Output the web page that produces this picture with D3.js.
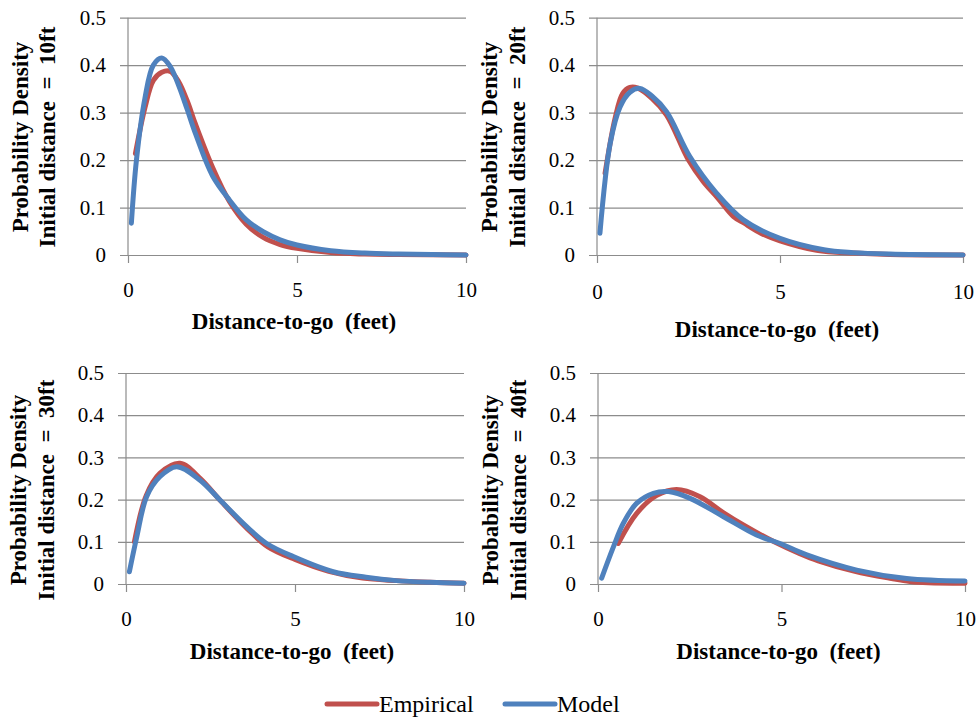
<!DOCTYPE html>
<html>
<head>
<meta charset="utf-8">
<script src="https://cdn.jsdelivr.net/npm/d3@7"></script>
<style>
  body { margin: 0; background: #fff; }
  svg { display: block; }
  svg text { font-family: "Liberation Serif", "Times New Roman", Tinos, "DejaVu Serif", serif; fill: #000; }
</style>
</head>
<body>
<svg id="drawing_region"></svg>
<script>
// initial distances shown, one per panel
const initialDistances = ["10ft", "20ft", "30ft", "40ft"];
const seriesNames = ["Empirical", "Model"];
const xTicks = [0, 5, 10];
const yTicks = [0, 0.1, 0.2, 0.3, 0.4, 0.5];

// [distance-to-go (feet), probability density]
const empirical10 = [[0.22,0.214],[0.5,0.31],[0.75,0.368],[1.0,0.385],[1.25,0.387],[1.5,0.365],[1.75,0.325],[2.0,0.275],[2.5,0.185],[3.0,0.113],[3.5,0.065],[4.0,0.037],[4.5,0.022],[5,0.014],[6,0.005],[7,0.002],[8,0.001],[10,0.0]];
const model10 = [[0.1,0.067],[0.25,0.2],[0.5,0.33],[0.75,0.4],[1.0,0.415],[1.25,0.397],[1.5,0.357],[1.75,0.307],[2.0,0.255],[2.5,0.167],[3.0,0.116],[3.5,0.074],[4.0,0.049],[4.5,0.032],[5.0,0.021],[6,0.009],[7,0.004],[8,0.002],[9,0.001],[10,0.0]];

const empirical20 = [[0.22,0.172],[0.5,0.29],[0.7,0.34],[0.9,0.353],[1.1,0.352],[1.5,0.33],[1.9,0.295],[2.5,0.2],[2.9,0.155],[3.3,0.12],[3.73,0.081],[4.0,0.068],[4.5,0.045],[5,0.03],[6,0.01],[7,0.004],[8,0.001],[10,0.0]];
const model20 = [[0.08,0.046],[0.36,0.235],[0.63,0.312],[0.9,0.343],[1.17,0.351],[1.5,0.335],[1.9,0.302],[2.54,0.207],[3.27,0.13],[4.0,0.074],[5,0.035],[6.2,0.011],[7,0.005],[8,0.002],[10,0.0]];

const empirical30 = [[0.25,0.1],[0.6,0.21],[1.0,0.262],[1.6,0.286],[2.2,0.25],[2.8,0.197],[3.6,0.13],[4.2,0.088],[5,0.058],[6,0.03],[7,0.014],[8,0.008],[9,0.004],[10,0.002]];
const model30 = [[0.1,0.029],[0.32,0.112],[0.61,0.207],[1.0,0.254],[1.5,0.278],[2.19,0.246],[2.78,0.199],[3.57,0.136],[4.16,0.096],[4.95,0.065],[6.13,0.029],[7.1,0.016],[8,0.008],[9,0.004],[10,0.002]];

const empirical40 = [[0.55,0.096],[1.05,0.167],[1.6,0.21],[2.14,0.224],[2.78,0.207],[3.4,0.17],[3.96,0.14],[4.8,0.1],[5.5,0.072],[6,0.055],[7,0.03],[8,0.013],[8.5,0.006],[9,0.003],[10,0.002]];
const model40 = [[0.1,0.014],[0.42,0.088],[0.69,0.144],[1.05,0.191],[1.51,0.215],[1.92,0.219],[2.51,0.203],[3.41,0.16],[4.32,0.116],[4.96,0.096],[5.69,0.069],[7.05,0.033],[8.41,0.013],[10,0.007]];

const empiricalSeries = [empirical10, empirical20, empirical30, empirical40];
const modelSeries = [model10, model20, model30, model40];

const colors = { Empirical: "#C0504D", Model: "#4F81BD" };
const gridColor = "#8c8c8c";
const serif = '"Liberation Serif", "Times New Roman", Tinos, "DejaVu Serif", serif';

// panel boxes (pixels)
const panels = [
    { left: 128, right: 466, top: 17.7, bottom: 255, t1: 20, t2: 47, tcy: 137, tickY: 297, titleY: 329 },
    { left: 597, right: 963, top: 17.7, bottom: 255, t1: 489, t2: 517, tcy: 137, tickY: 299, titleY: 337 },
    { left: 126, right: 464, top: 373, bottom: 584, t1: 18, t2: 46, tcy: 490, tickY: 626, titleY: 659 },
    { left: 598, right: 965, top: 373, bottom: 584, t1: 490, t2: 518, tcy: 490, tickY: 626, titleY: 659 }
];

const svg = d3.select("#drawing_region")
    .attr("width", 980)
    .attr("height", 719)
    .attr("font-family", serif);

panels.forEach((p, i) => {
    const x = d3.scaleLinear().domain([0, 10]).range([p.left, p.right]);
    const y = d3.scaleLinear().domain([0, 0.5]).range([p.bottom, p.top]);
    const g = svg.append("g");

    // horizontal gridlines with outside ticks
    const yAxis = d3.axisLeft(y)
        .tickValues(yTicks)
        .tickSize(-(p.right - p.left))
        .tickSizeOuter(0)
        .tickPadding(22)
        .tickFormat(d => d === 0 ? "0" : d3.format(".1f")(d));
    const ya = g.append("g")
        .attr("transform", `translate(${p.left},0)`)
        .call(yAxis)
        .attr("font-family", serif)
        .attr("font-size", 21);
    ya.select(".domain").remove();
    ya.selectAll(".tick line")
        .attr("x1", -8)
        .attr("stroke", gridColor)
        .attr("stroke-width", 1.2);
    ya.selectAll(".tick text").attr("fill", "#000");

    // bottom axis with ticks downward
    const xAxis = d3.axisBottom(x)
        .tickValues(xTicks)
        .tickSize(8)
        .tickSizeOuter(0)
        .tickFormat(d3.format("d"));
    const xa = g.append("g")
        .attr("transform", `translate(0,${p.bottom})`)
        .call(xAxis)
        .attr("font-family", serif)
        .attr("font-size", 21);
    xa.select(".domain").attr("stroke", gridColor).attr("stroke-width", 1.2);
    xa.selectAll(".tick line").attr("stroke", gridColor).attr("stroke-width", 1.2);
    xa.selectAll(".tick text")
        .attr("y", p.tickY - p.bottom)
        .attr("dy", 0)
        .attr("fill", "#000");

    // vertical axis line
    g.append("line")
        .attr("x1", p.left).attr("x2", p.left)
        .attr("y1", p.top).attr("y2", p.bottom)
        .attr("stroke", gridColor)
        .attr("stroke-width", 1.2);

    // curves
    const line = d3.line()
        .x(d => x(d[0]))
        .y(d => y(d[1]))
        .curve(d3.curveCatmullRom.alpha(0.5));

    g.append("path")
        .datum(empiricalSeries[i])
        .attr("d", line)
        .attr("fill", "none")
        .attr("stroke", colors.Empirical)
        .attr("stroke-width", 5)
        .attr("stroke-linecap", "round")
        .attr("stroke-linejoin", "round");

    g.append("path")
        .datum(modelSeries[i])
        .attr("d", line)
        .attr("fill", "none")
        .attr("stroke", colors.Model)
        .attr("stroke-width", 5)
        .attr("stroke-linecap", "round")
        .attr("stroke-linejoin", "round");

    // titles
    g.append("text")
        .attr("x", (p.left + p.right) / 2 - 3)
        .attr("y", p.titleY)
        .attr("text-anchor", "middle")
        .attr("font-size", 23)
        .attr("font-weight", "bold")
        .style("white-space", "pre")
        .text("Distance-to-go  (feet)");

    g.append("text")
        .attr("transform", `translate(${p.t1},${p.tcy}) rotate(-90)`)
        .attr("dy", "0.35em")
        .attr("text-anchor", "middle")
        .attr("font-size", 23)
        .attr("font-weight", "bold")
        .text("Probability Density");

    g.append("text")
        .attr("transform", `translate(${p.t2},${p.tcy}) rotate(-90)`)
        .attr("dy", "0.35em")
        .attr("text-anchor", "middle")
        .attr("font-size", 23)
        .attr("font-weight", "bold")
        .style("white-space", "pre")
        .text("Initial distance  =  " + initialDistances[i]);
});

// legend
const legend = svg.append("g");
const legendX = [327, 505];
seriesNames.forEach((name, i) => {
    legend.append("line")
        .attr("x1", legendX[i]).attr("x2", legendX[i] + 50)
        .attr("y1", 704).attr("y2", 704)
        .attr("stroke", colors[name])
        .attr("stroke-width", 5)
        .attr("stroke-linecap", "round");
    legend.append("text")
        .attr("x", legendX[i] + 52)
        .attr("y", 712)
        .attr("font-size", 24)
        .text(name);
});
</script>
</body>
</html>
